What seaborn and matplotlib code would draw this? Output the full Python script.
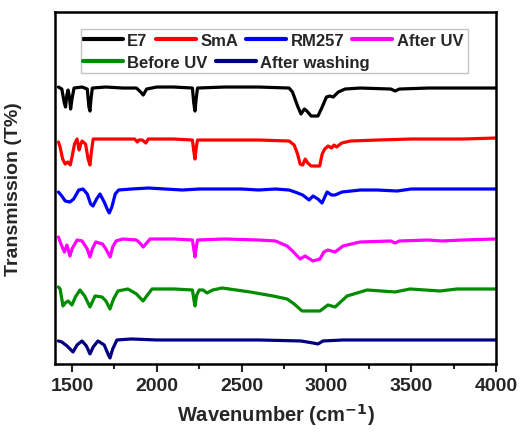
import numpy as np
import pandas as pd
import seaborn as sns
import matplotlib.pyplot as plt
from matplotlib.ticker import MultipleLocator
from matplotlib.patches import Rectangle

# FTIR spectra (offset transmission, arbitrary units)
wn_e7 = [1420, 1440, 1455, 1462, 1470, 1477, 1485, 1492, 1500, 1512,
         1560, 1590, 1600, 1606, 1612, 1620, 1700, 1800, 1880, 1905, 1920, 1940,
         2000, 2100, 2210, 2218, 2225, 2232, 2240, 2400, 2600, 2780, 2800, 2830,
         2850, 2870, 2885, 2910, 2950, 2975, 3000, 3020, 3040, 3070, 3110, 3200,
         3380, 3405, 3430, 3600, 3800, 4000]
t_e7 = [277, 275, 261, 257, 269, 274, 267, 255, 265, 276,
        277, 275, 257, 253, 265, 276, 277, 276, 276, 272, 269, 275,
        277, 277, 276, 261, 253, 265, 276, 277, 277, 276, 272, 258,
        250, 255, 253, 248, 248, 257, 267, 268, 267, 272, 275, 276,
        275, 273, 275, 276, 276, 276]

wn_sma = [1420, 1430, 1445, 1460, 1475, 1490, 1500, 1515, 1530, 1542,
          1552, 1560, 1580, 1595, 1606, 1615, 1625, 1700, 1800, 1870, 1885,
          1895, 1915, 1935, 1950, 2100, 2210, 2218, 2225, 2233, 2240, 2400,
          2600, 2780, 2810, 2830, 2845, 2860, 2875, 2890, 2910, 2960, 2975,
          2990, 3010, 3030, 3045, 3060, 3090, 3140, 3300, 3500, 3800, 4000]
t_sma = [222, 217, 205, 200, 202, 199, 207, 220, 225, 214,
         220, 223, 220, 205, 199, 213, 225, 225, 225, 225, 222,
         224, 224, 221, 225, 225, 224, 213, 205, 217, 224, 224,
         224, 223, 219, 210, 200, 199, 205, 201, 198, 198, 210,
         215, 218, 216, 219, 217, 221, 223, 224, 225, 225, 226]

wn_rm = [1420, 1440, 1460, 1488, 1510, 1540, 1565, 1590, 1610, 1624,
         1645, 1665, 1690, 1710, 1720, 1735, 1755, 1775, 1850, 1950, 2050,
         2150, 2250, 2350, 2500, 2600, 2700, 2780, 2815, 2860, 2898, 2921,
         2950, 2974, 3004, 3030, 3051, 3092, 3200, 3300, 3416, 3500, 3800, 4000]
t_rm = [172, 168, 163, 162, 165, 174, 175, 170, 160, 158,
        165, 170, 162, 154, 151, 157, 170, 174, 175, 176, 175,
        174, 175, 175, 175, 174, 175, 174, 172, 169, 164, 168,
        165, 161, 172, 169, 169, 172, 174, 174, 173, 175, 175, 175]

wn_auv = [1420, 1435, 1455, 1470, 1488, 1500, 1530, 1560, 1590, 1606,
          1620, 1640, 1680, 1700, 1725, 1740, 1760, 1800, 1880, 1900, 1920,
          1940, 1960, 2100, 2210, 2218, 2225, 2233, 2240, 2400, 2600, 2700,
          2768, 2800, 2845, 2874, 2921, 2962, 2985, 3009, 3051, 3098, 3198,
          3380, 3405, 3430, 3600, 3682, 3800, 4000]
t_auv = [127, 120, 112, 119, 108, 115, 124, 123, 115, 107,
         115, 122, 120, 115, 107, 117, 123, 125, 124, 121, 117,
         121, 125, 125, 124, 115, 107, 117, 124, 125, 124, 123,
         118, 113, 105, 108, 103, 105, 112, 114, 112, 118, 122,
         123, 121, 123, 124, 123, 124, 125]

wn_buv = [1420, 1430, 1447, 1460, 1477, 1500, 1520, 1547, 1575, 1606,
          1636, 1677, 1700, 1724, 1745, 1771, 1830, 1880, 1919, 1945, 1972,
          2100, 2210, 2218, 2225, 2235, 2250, 2273, 2296, 2330, 2385, 2550,
          2685, 2768, 2810, 2856, 2962, 3009, 3051, 3122, 3240, 3405, 3493,
          3670, 3770, 4000]
t_buv = [77, 75, 58, 61, 63, 59, 67, 74, 68, 57,
         68, 67, 63, 55, 65, 73, 75, 70, 63, 69, 75,
         75, 74, 65, 58, 69, 74, 74, 71, 74, 76, 72,
         68, 65, 60, 53, 53, 59, 57, 68, 74, 72, 75,
         73, 75, 75]

wn_wash = [1420, 1440, 1471, 1506, 1530, 1559, 1585, 1606, 1625, 1653,
           1690, 1715, 1724, 1740, 1765, 1850, 2000, 2225, 2400, 2600, 2850,
           2920, 2950, 2980, 3100, 3500, 4000]
t_wash = [23, 22, 18, 12, 19, 23, 18, 10, 17, 23,
          19, 9, 6, 15, 24, 25, 24, 24, 24, 24, 23,
          21, 20, 23, 24, 24, 24]

samples = ["E7", "SmA", "RM257", "After UV", "Before UV", "After washing"]
colors = ["black", "#ff0000", "#0000ff", "#ff00ff", "#008c00", "#000080"]

frames = []
for name, wn, t in zip(samples,
                       [wn_e7, wn_sma, wn_rm, wn_auv, wn_buv, wn_wash],
                       [t_e7, t_sma, t_rm, t_auv, t_buv, t_wash]):
    frames.append(pd.DataFrame({"wn": wn, "T": t, "sample": name}))
df = pd.concat(frames, ignore_index=True)

sns.set_style("ticks")
plt.rcParams["font.family"] = ["Liberation Sans", "DejaVu Sans"]
plt.rcParams["font.weight"] = "bold"
plt.rcParams["mathtext.default"] = "bf"

fig = plt.figure(figsize=(5.21, 4.35), dpi=100)
ax = fig.add_axes([0.1056, 0.161, 0.8465, 0.809])

sns.lineplot(data=df, x="wn", y="T", hue="sample", hue_order=samples,
             palette=colors, estimator=None, sort=False, lw=2.3, ax=ax)

ax.set_xlim(1400, 4000)
ax.set_ylim(0, 352)
ax.xaxis.set_major_locator(MultipleLocator(500))
ax.xaxis.set_minor_locator(MultipleLocator(250))
ax.set_yticks([])
ax.tick_params(axis="x", which="major", length=6, width=1.5, labelsize=14,
               pad=3.5, direction="out")
ax.tick_params(axis="x", which="minor", length=3.5, width=1.5, direction="out")
for lab in ax.get_xticklabels():
    lab.set_fontweight("bold")
for s in ax.spines.values():
    s.set_visible(True)
    s.set_linewidth(1.8)
    s.set_color("black")

ax.set_xlabel("Wavenumber (cm$^{-1}$)", fontsize=14.5, fontweight="bold", labelpad=5)
ax.set_ylabel("Transmission (T%)", fontsize=14, fontweight="bold", labelpad=24)

# legend: two rows with their own spacing, one shared frame
handles, labels = ax.get_legend_handles_labels()
lut = dict(zip(labels, handles))
ax.get_legend().remove()
leg_kw = dict(loc="center left", borderaxespad=0, borderpad=0, frameon=False,
              handlelength=2.4, handletextpad=0.25, columnspacing=0.5,
              prop={"weight": "bold", "size": 12})
row1 = ["E7", "SmA", "RM257", "After UV"]
row2 = ["Before UV", "After washing"]
leg1 = ax.legend([lut[k] for k in row1], row1, ncol=4,
                 bbox_to_anchor=(0.0635, 0.920), **leg_kw)
ax.add_artist(leg1)
leg2 = ax.legend([lut[k] for k in row2], row2, ncol=2,
                 bbox_to_anchor=(0.0635, 0.858), **leg_kw)
for lg in (leg1, leg2):
    for h in lg.get_lines():
        h.set_linewidth(3)
ax.add_patch(Rectangle((0.059, 0.827), 0.878, 0.125, transform=ax.transAxes,
                       fill=False, edgecolor="#c4c4c4", lw=1, zorder=5))

fig.savefig("out.png", dpi=100)
